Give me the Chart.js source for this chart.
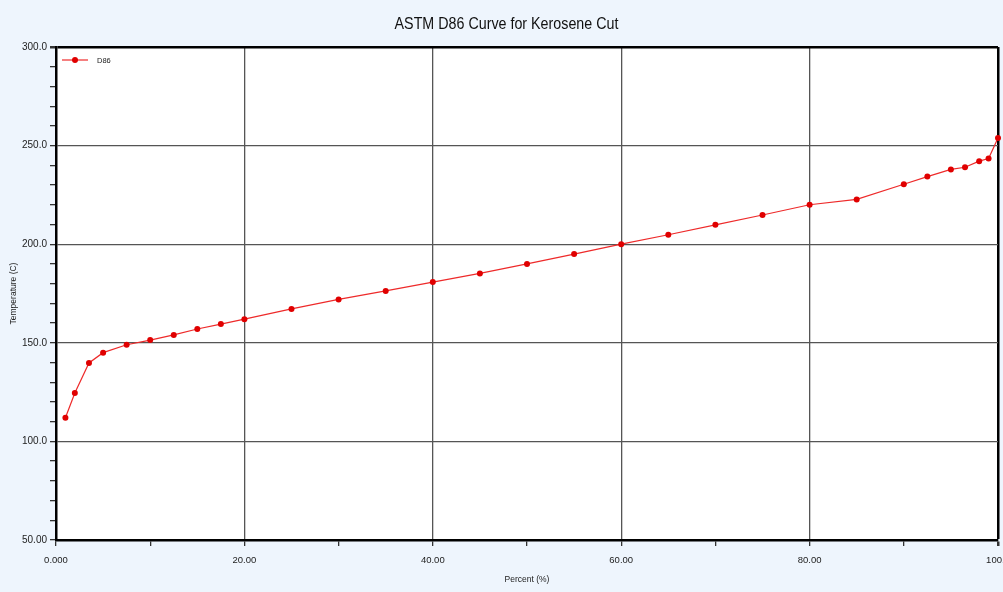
<!DOCTYPE html>
<html>
<head>
<meta charset="utf-8">
<script src="https://cdn.jsdelivr.net/npm/chart.js@4/dist/chart.umd.min.js"></script>
<style>
  html, body { margin: 0; padding: 0; background: #eef5fd; }
  #wrap { position: relative; width: 1003px; height: 592px; }
  #title {
    position: absolute; left: 0; top: 14px; width: 1013px; text-align: center;
    font: 17px 'Liberation Sans', Arial, sans-serif; color: #111;
    transform: scaleX(0.84); transform-origin: 50% 50%;
  }
</style>
</head>
<body>
<div id="wrap">
  <div id="title">ASTM D86 Curve for Kerosene Cut</div>
  <canvas id="d86Chart" width="1003" height="592"></canvas>
</div>
<script>
// ASTM D86 distillation points
const percents = [1, 2, 3.5, 5, 7.5, 10, 12.5, 15, 17.5, 20, 25, 30, 35, 40, 45, 50, 55, 60, 65, 70, 75, 80, 85, 90, 92.5, 95, 96.5, 98, 99, 100];
const temps = [112, 124.5, 139.8, 145, 149, 151.4, 154, 157, 159.5, 162, 167.2, 172, 176.3, 180.8, 185.2, 190, 195, 200, 204.8, 209.8, 214.8, 220, 222.7, 230.4, 234.3, 237.9, 239, 242.1, 243.4, 253.8];
const seriesName = 'D86';

const sans = "'Liberation Sans', Arial, sans-serif";

// white plot area + little legend inside the plot
const plotBg = {
  id: 'plotBg',
  beforeDraw(chart) {
    const { ctx, chartArea: a } = chart;
    ctx.save();
    ctx.fillStyle = '#ffffff';
    ctx.fillRect(a.left, a.top, a.right - a.left, a.bottom - a.top);
    ctx.restore();
  },
  afterDraw(chart) {
    const { ctx, chartArea: a } = chart;
    const ds = chart.data.datasets[0];
    const y = a.top + 13;
    ctx.save();
    ctx.strokeStyle = ds.borderColor;
    ctx.lineWidth = 1.2;
    ctx.beginPath();
    ctx.moveTo(a.left + 6, y);
    ctx.lineTo(a.left + 32, y);
    ctx.stroke();
    ctx.fillStyle = ds.pointBackgroundColor;
    ctx.beginPath();
    ctx.arc(a.left + 19, y, 3, 0, Math.PI * 2);
    ctx.fill();
    ctx.fillStyle = '#222';
    ctx.font = '7.5px ' + sans;
    ctx.textBaseline = 'middle';
    ctx.fillText(ds.label, a.left + 41, y + 0.5);
    ctx.restore();
  }
};

const sig4 = v => Number(v).toPrecision(4);

new Chart(document.getElementById('d86Chart'), {
  type: 'line',
  data: {
    datasets: [{
      label: seriesName,
      data: percents.map((p, i) => ({ x: p, y: temps[i] })),
      borderColor: '#ee2a2a',
      borderWidth: 1.2,
      pointBackgroundColor: '#e00000',
      pointBorderColor: '#e00000',
      pointBorderWidth: 0,
      pointRadius: 3,
      pointHoverRadius: 3,
      tension: 0,
      fill: false,
      clip: 5
    }]
  },
  options: {
    responsive: false,
    animation: false,
    devicePixelRatio: 1,
    layout: { padding: { left: 0, right: 5, top: 47, bottom: 0 } },
    plugins: {
      legend: { display: false },
      tooltip: { enabled: false },
      title: { display: false }
    },
    scales: {
      x: {
        type: 'linear',
        min: 0,
        max: 100,
        afterFit(scale) {
          scale.height = 52;
          scale.paddingLeft = 0;
          scale.paddingRight = 0;
        },
        ticks: {
          stepSize: 10,
          autoSkip: false,
          maxRotation: 0,
          padding: 9,
          color: '#222',
          font: { family: sans, size: 9.5 },
          callback: v => (v % 20 === 0 ? sig4(v) : '')
        },
        grid: {
          color: c => (c.tick && c.tick.value === 100 ? '#000' : (c.tick && c.tick.value % 20 === 0 ? '#555' : 'rgba(0,0,0,0)')),
          lineWidth: c => (c.tick && c.tick.value === 100 ? 2.5 : 1.3),
          tickColor: '#333',
          tickLength: 6,
          drawTicks: true
        },
        border: { display: true, color: '#000', width: 2.5 },
        title: {
          display: true,
          text: 'Percent (%)',
          color: '#222',
          font: { family: sans, size: 8.5 },
          padding: { top: 2, bottom: 7 }
        }
      },
      y: {
        type: 'linear',
        min: 50,
        max: 300,
        afterFit(scale) {
          scale.width = 56;
          scale.paddingTop = 0;
          scale.paddingBottom = 0;
        },
        ticks: {
          stepSize: 10,
          autoSkip: false,
          padding: 3,
          color: '#222',
          font: { family: sans, size: 10 },
          callback: v => (v % 50 === 0 ? sig4(v) : '')
        },
        grid: {
          color: c => (c.tick && c.tick.value === 300 ? '#000' : (c.tick && c.tick.value % 50 === 0 ? '#555' : 'rgba(0,0,0,0)')),
          lineWidth: c => (c.tick && c.tick.value === 300 ? 2.5 : 1.3),
          tickColor: '#333',
          tickLength: 6
        },
        border: { display: true, color: '#000', width: 2.5 },
        title: {
          display: true,
          text: 'Temperature (C)',
          color: '#222',
          font: { family: sans, size: 8.5 },
          padding: { top: 9, bottom: 0 }
        }
      }
    }
  },
  plugins: [plotBg]
});
</script>
</body>
</html>
